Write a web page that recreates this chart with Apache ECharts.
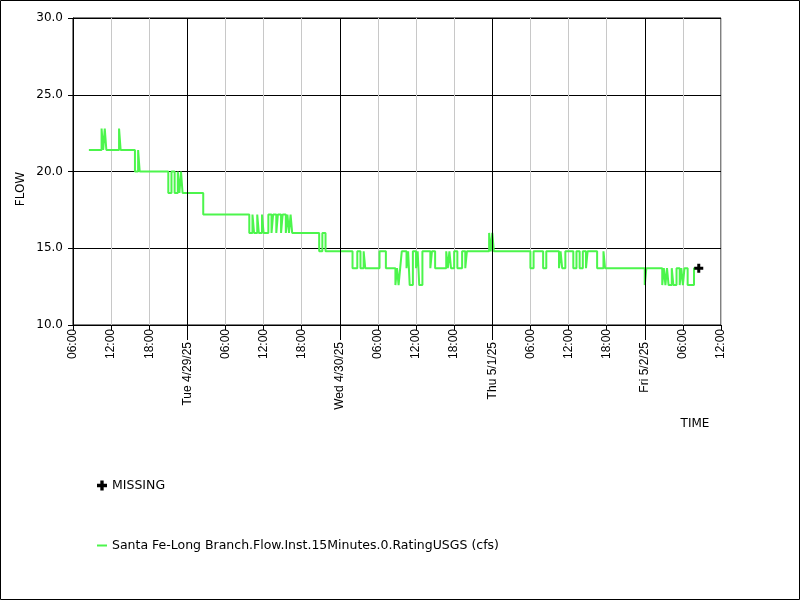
<!DOCTYPE html>
<html lang="en">
<head>
    <meta charset="UTF-8">
    <title>FLOW</title>
    <script src="https://cdn.jsdelivr.net/npm/echarts@6/dist/echarts.min.js"></script>
    <style>
        body { margin: 0; background: #fff; }
    </style>
</head>
<body>
<div id="main" style="width: 800px;height: 600px"></div>
<script>
    // flow readings: each value holds until the next time
    var flowTimes = [
        '2025-04-28 08:30', '2025-04-28 10:30', '2025-04-28 10:45', '2025-04-28 11:00', '2025-04-28 11:15',
        '2025-04-28 13:15', '2025-04-28 13:30', '2025-04-28 15:45', '2025-04-28 16:15', '2025-04-28 16:30',
        '2025-04-28 21:00', '2025-04-28 21:30', '2025-04-28 22:00', '2025-04-28 22:30', '2025-04-28 22:45',
        '2025-04-28 23:00', '2025-04-28 23:15',
        '2025-04-29 02:30', '2025-04-29 09:45', '2025-04-29 10:15', '2025-04-29 10:30', '2025-04-29 11:00',
        '2025-04-29 11:15', '2025-04-29 11:45', '2025-04-29 12:00', '2025-04-29 12:45', '2025-04-29 13:15',
        '2025-04-29 13:30', '2025-04-29 14:00', '2025-04-29 14:15', '2025-04-29 14:45', '2025-04-29 15:00',
        '2025-04-29 15:30', '2025-04-29 15:45', '2025-04-29 16:00', '2025-04-29 16:15', '2025-04-29 16:30',
        '2025-04-29 20:45', '2025-04-29 21:15', '2025-04-29 21:45',
        '2025-04-30 02:00', '2025-04-30 02:45', '2025-04-30 03:15', '2025-04-30 03:45', '2025-04-30 04:00',
        '2025-04-30 06:15', '2025-04-30 07:15', '2025-04-30 08:45', '2025-04-30 09:00', '2025-04-30 09:15',
        '2025-04-30 09:30', '2025-04-30 09:45', '2025-04-30 10:30', '2025-04-30 10:45', '2025-04-30 11:00',
        '2025-04-30 11:30', '2025-04-30 12:00', '2025-04-30 12:15', '2025-04-30 12:30', '2025-04-30 13:00',
        '2025-04-30 14:15', '2025-04-30 14:30', '2025-04-30 15:00', '2025-04-30 16:45', '2025-04-30 17:00',
        '2025-04-30 17:15', '2025-04-30 17:30', '2025-04-30 18:00', '2025-04-30 18:30', '2025-04-30 19:15',
        '2025-04-30 19:45', '2025-04-30 20:00', '2025-04-30 23:30', '2025-04-30 23:45',
        '2025-05-01 00:00', '2025-05-01 00:15', '2025-05-01 06:00', '2025-05-01 06:30', '2025-05-01 08:00',
        '2025-05-01 08:30', '2025-05-01 10:30', '2025-05-01 10:45', '2025-05-01 11:00', '2025-05-01 11:30',
        '2025-05-01 12:45', '2025-05-01 13:15', '2025-05-01 13:45', '2025-05-01 14:15', '2025-05-01 14:45',
        '2025-05-01 15:00', '2025-05-01 16:30', '2025-05-01 17:30', '2025-05-01 17:45',
        '2025-05-02 00:00', '2025-05-02 00:15', '2025-05-02 02:45', '2025-05-02 03:00', '2025-05-02 03:15',
        '2025-05-02 03:30', '2025-05-02 03:45', '2025-05-02 04:15', '2025-05-02 04:30', '2025-05-02 05:00',
        '2025-05-02 05:30', '2025-05-02 05:45', '2025-05-02 06:00', '2025-05-02 06:15', '2025-05-02 06:45',
        '2025-05-02 07:45', '2025-05-02 08:15'
    ];
    var flowValues = [
        21.4, 22.8, 21.4, 22.8, 21.4,
        22.8, 21.4, 20.0, 21.4, 20.0,
        18.6, 20.0, 18.6, 20.0, 18.6,
        20.0, 18.6,
        17.2, 16.0, 17.2, 16.0, 17.2,
        16.0, 17.2, 16.0, 17.2, 16.0,
        17.2, 16.0, 17.2, 16.0, 17.2,
        16.0, 17.2, 16.0, 17.2, 16.0,
        14.8, 16.0, 14.8,
        13.7, 14.8, 13.7, 14.8, 13.7,
        14.8, 13.7, 12.6, 13.7, 12.6,
        13.7, 14.8, 13.7, 14.8, 12.6,
        14.8, 13.7, 14.8, 12.6, 14.8,
        13.7, 14.8, 13.7, 14.8, 13.7,
        14.8, 13.7, 14.8, 13.7, 14.8,
        13.7, 14.8, 16.0, 14.8,
        16.0, 14.8, 13.7, 14.8, 13.7,
        14.8, 13.7, 14.8, 13.7, 14.8,
        13.7, 14.8, 13.7, 14.8, 13.7,
        14.8, 13.7, 14.8, 13.7,
        12.6, 13.7, 12.6, 13.7, 12.6,
        13.7, 12.6, 13.7, 12.6, 13.7,
        12.6, 13.7, 12.6, 13.7, 12.6,
        13.7, 13.7
    ];
    var missingTimes = ['2025-05-02 08:30'];
    var missingValues = [13.7];

    var dayTimes = ['2025-04-29 00:00', '2025-04-30 00:00', '2025-05-01 00:00', '2025-05-02 00:00'];
    var dayLabels = ['Tue 4/29/25', 'Wed 4/30/25', 'Thu 5/1/25', 'Fri 5/2/25'];
    var xStart = '2025-04-28 06:00',
        xEnd = '2025-05-02 12:00';
    var seriesName = 'Santa Fe-Long Branch.Flow.Inst.15Minutes.0.RatingUSGS (cfs)';

    function ms(s) {
        return new Date(s.replace(' ', 'T')).getTime();
    }
    function pad(n) {
        return n < 10 ? '0' + n : '' + n;
    }

    var flowData = [];
    for (var i = 0; i < flowTimes.length; i++) {
        flowData.push([ms(flowTimes[i]), flowValues[i]]);
    }
    var missingData = [];
    for (var j = 0; j < missingTimes.length; j++) {
        missingData.push([ms(missingTimes[j]), missingValues[j]]);
    }
    var dayMs = dayTimes.map(ms);
    var SIX_HOURS = 6 * 3600 * 1000;
    var plusIcon = 'path://M3,0H6V3H9V6H6V9H3V6H0V3H3Z';
    var lineGreen = '#4cf54c';

    var myChart = echarts.init(document.getElementById('main'));
    var option = {
        animation: false,
        backgroundColor: '#fff',
        grid: {
            left: 73,
            right: 79,
            top: 18,
            bottom: 275,
            show: true,
            borderColor: '#000',
            borderWidth: 1
        },
        xAxis: [
            {
                // 6-hour ticks and grey grid
                type: 'value',
                position: 'bottom',
                min: ms(xStart),
                max: ms(xEnd),
                interval: SIX_HOURS,
                axisLine: { lineStyle: { color: '#000', width: 1 } },
                axisTick: { show: true, length: 5, lineStyle: { color: '#000' } },
                splitLine: { show: true, lineStyle: { color: '#c8c8c8', width: 1 } },
                axisLabel: {
                    rotate: 90,
                    margin: 4,
                    color: '#000',
                    fontFamily: 'Liberation Sans',
                    fontSize: 12,
                    showMinLabel: true,
                    showMaxLabel: true,
                    formatter: function (v) {
                        if (dayMs.indexOf(v) >= 0) return '';
                        var d = new Date(v);
                        return pad(d.getHours()) + ':' + pad(d.getMinutes());
                    }
                }
            },
            {
                // day boundaries: long ticks and date labels
                type: 'value',
                position: 'bottom',
                offset: 0,
                min: ms(xStart),
                max: ms(xEnd),
                axisLine: { show: false },
                splitLine: { show: false },
                axisTick: {
                    show: true,
                    length: 15,
                    customValues: dayMs,
                    lineStyle: { color: '#000' }
                },
                axisLabel: {
                    rotate: 90,
                    margin: 17,
                    color: '#000',
                    fontFamily: 'Liberation Sans',
                    fontSize: 12,
                    customValues: dayMs,
                    formatter: function (v) {
                        var k = dayMs.indexOf(v);
                        return k >= 0 ? dayLabels[k] : '';
                    }
                }
            }
        ],
        yAxis: {
            type: 'value',
            min: 10,
            max: 30,
            interval: 5,
            axisLine: { show: true, lineStyle: { color: '#000' } },
            axisTick: { show: true, length: 5, lineStyle: { color: '#000' } },
            splitLine: { show: true, lineStyle: { color: '#000', width: 1 } },
            axisLabel: {
                margin: 10,
                color: '#000',
                fontFamily: 'DejaVu Sans',
                fontSize: 12,
                formatter: function (v) { return v.toFixed(1); }
            }
        },
        legend: [
            {
                data: [{ name: 'MISSING', icon: plusIcon, itemStyle: { color: '#000', opacity: 1 } }],
                left: 92,
                top: 474,
                itemWidth: 10,
                itemHeight: 10,
                textStyle: { color: '#000', fontFamily: 'DejaVu Sans', fontSize: 12.5 }
            },
            {
                data: [{ name: seriesName, icon: 'rect' }],
                left: 92,
                top: 534,
                itemWidth: 10,
                itemHeight: 2,
                textStyle: { color: '#000', fontFamily: 'DejaVu Sans', fontSize: 12.5 }
            }
        ],
        graphic: [
            {
                type: 'rect',
                shape: { x: 0.5, y: 0.5, width: 799, height: 599 },
                style: { fill: 'none', stroke: '#000', lineWidth: 1 },
                silent: true
            },
            {
                type: 'text',
                x: 21,
                y: 189,
                rotation: Math.PI / 2,
                style: {
                    text: 'FLOW',
                    fill: '#000',
                    font: '12px "DejaVu Sans"',
                    textAlign: 'center',
                    textVerticalAlign: 'middle'
                }
            },
            {
                type: 'text',
                x: 695,
                y: 424,
                style: {
                    text: 'TIME',
                    fill: '#000',
                    font: '12px "DejaVu Sans"',
                    textAlign: 'center',
                    textVerticalAlign: 'middle'
                }
            }
        ],
        series: [
            {
                // day boundaries drawn as black grid lines
                name: 'days',
                type: 'line',
                data: [],
                z: 1,
                silent: true,
                markLine: {
                    silent: true,
                    symbol: 'none',
                    label: { show: false },
                    lineStyle: { color: '#000', width: 1, type: 'solid' },
                    data: dayMs.map(function (t) { return { xAxis: t }; })
                }
            },
            {
                name: seriesName,
                type: 'line',
                step: 'end',
                z: 3,
                showSymbol: false,
                data: flowData,
                itemStyle: { color: lineGreen },
                lineStyle: { color: lineGreen, width: 2 }
            },
            {
                name: 'MISSING',
                type: 'scatter',
                z: 4,
                symbol: plusIcon,
                symbolSize: 9,
                itemStyle: { color: '#000', opacity: 1 },
                data: missingData
            }
        ]
    };
    myChart.setOption(option);
</script>
</body>
</html>
